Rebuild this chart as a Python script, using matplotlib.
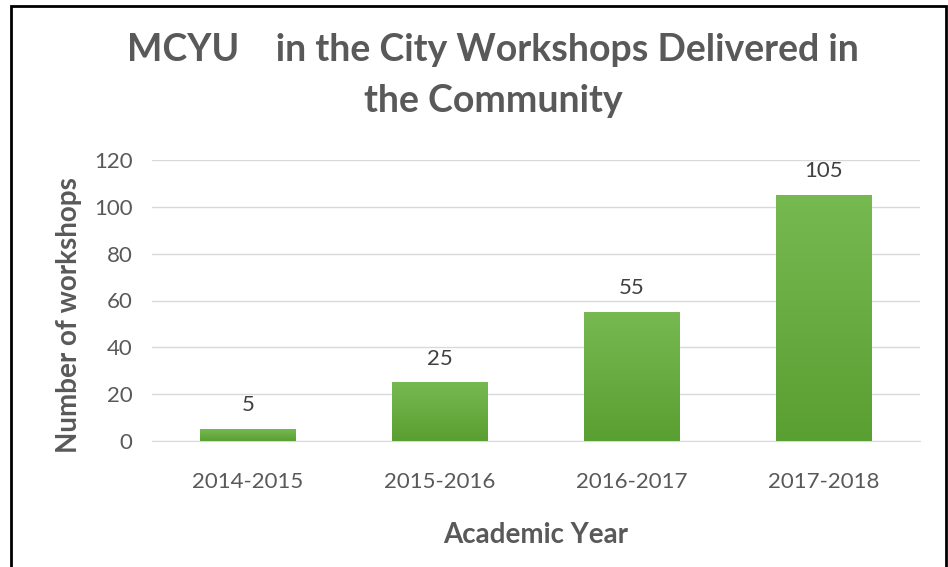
import numpy as np
import matplotlib.pyplot as plt
from matplotlib.patches import Rectangle
from matplotlib.colors import LinearSegmentedColormap

years = ['2014-2015', '2015-2016', '2016-2017', '2017-2018']
workshops = [5, 25, 55, 105]

plt.rcParams['font.family'] = ['Lato', 'DejaVu Sans']

fig = plt.figure(figsize=(9.48, 5.67), dpi=100)
ax = fig.add_axes([152 / 948, 1 - 441 / 567, 768 / 948, 281 / 567])

# green gradient, lighter on top like the original
green = LinearSegmentedColormap.from_list('g', ['#5a9f32', '#77b951'])
grad = np.linspace(0, 1, 256).reshape(-1, 1)

x = np.arange(len(years))
bars = ax.bar(x, workshops, width=0.5, color='#68ac40', zorder=3)
for b in bars:
    x0, y0 = b.get_x(), b.get_y()
    im = ax.imshow(grad, cmap=green, aspect='auto', origin='lower', zorder=4,
                   extent=[x0, x0 + b.get_width(), y0, y0 + b.get_height()])
    im.set_clip_path(b)

for i, v in enumerate(workshops):
    ax.annotate(str(v), (i, v), xytext=(0, 10), textcoords='offset points',
                ha='center', va='bottom', fontsize=16, color='#404040')

ax.set_xlim(-0.5, 3.5)
ax.set_ylim(0, 120)
ax.set_yticks(range(0, 121, 20))
ax.set_xticks(x)
ax.set_xticklabels(years)
ax.tick_params(axis='both', length=0, labelsize=16, labelcolor='#595959')
ax.tick_params(axis='x', pad=22)
ax.tick_params(axis='y', pad=14)
ax.grid(axis='y', color='#d9d9d9', linewidth=1, zorder=0)
for s in ['left', 'right', 'top']:
    ax.spines[s].set_visible(False)
ax.spines['bottom'].set_color('#d9d9d9')

ax.set_ylabel('Number of workshops', fontsize=20, fontweight='bold', color='#595959')
ax.yaxis.set_label_coords(-0.091, 0.448)
ax.set_xlabel('Academic Year', fontsize=20, fontweight='bold', color='#595959', labelpad=22)

fig.text(493 / 948, 1 - 50 / 567, 'MCYU    in the City Workshops Delivered in',
         ha='center', va='center', fontsize=27, fontweight='bold', color='#595959')
fig.text(493 / 948, 1 - 101 / 567, 'the Community',
         ha='center', va='center', fontsize=27, fontweight='bold', color='#595959')

# frame of the chart area
fig.patches.append(Rectangle((11 / 948, -0.05), 935 / 948, 1.05 - 6 / 567, transform=fig.transFigure,
                             fill=False, edgecolor='black', linewidth=2))

fig.savefig('out.png', dpi=100)
